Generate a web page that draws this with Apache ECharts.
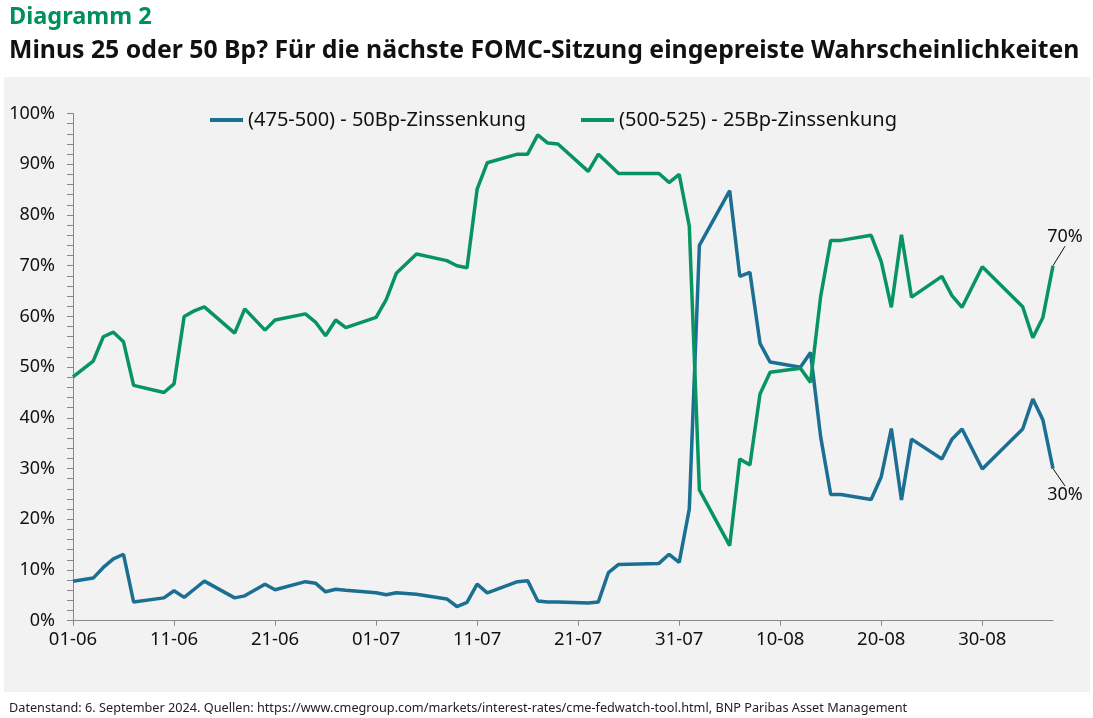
<!DOCTYPE html>
<html>
<head>
<meta charset="utf-8">
<script src="https://cdn.jsdelivr.net/npm/echarts@6/dist/echarts.min.js"></script>
<style>
  html, body { margin: 0; padding: 0; background: #fff; }
  #chart { width: 1093px; height: 718px; }
</style>
</head>
<body>
<div id="chart"></div>
<script>
// --- données (jours ouvrés, en %) --- //
const dates = [
  '2024-06-01', '2024-06-03', '2024-06-04', '2024-06-05', '2024-06-06', '2024-06-07',
  '2024-06-10', '2024-06-11', '2024-06-12', '2024-06-13', '2024-06-14',
  '2024-06-17', '2024-06-18', '2024-06-20', '2024-06-21',
  '2024-06-24', '2024-06-25', '2024-06-26', '2024-06-27', '2024-06-28',
  '2024-07-01', '2024-07-02', '2024-07-03', '2024-07-05',
  '2024-07-08', '2024-07-09', '2024-07-10', '2024-07-11', '2024-07-12',
  '2024-07-15', '2024-07-16', '2024-07-17', '2024-07-18', '2024-07-19',
  '2024-07-22', '2024-07-23', '2024-07-24', '2024-07-25',
  '2024-07-29', '2024-07-30', '2024-07-31', '2024-08-01', '2024-08-02',
  '2024-08-05', '2024-08-06', '2024-08-07', '2024-08-08', '2024-08-09',
  '2024-08-12', '2024-08-13', '2024-08-14', '2024-08-15', '2024-08-16',
  '2024-08-19', '2024-08-20', '2024-08-21', '2024-08-22', '2024-08-23',
  '2024-08-26', '2024-08-27', '2024-08-28', '2024-08-30',
  '2024-09-03', '2024-09-04', '2024-09-05', '2024-09-06'
];

const cut50 = [
  7.8, 8.4, 10.5, 12.2, 13.1, 3.7,
  4.5, 5.9, 4.6, 6.2, 7.8,
  4.5, 4.9, 7.2, 6.1,
  7.7, 7.4, 5.7, 6.2, 6.0,
  5.5, 5.1, 5.5, 5.2,
  4.3, 2.8, 3.6, 7.2, 5.5,
  7.7, 7.9, 3.9, 3.7, 3.7,
  3.5, 3.7, 9.5, 11.1,
  11.3, 13.1, 11.5, 22.0, 74.0,
  84.8, 67.9, 68.7, 54.7, 51.0,
  50.0, 52.9, 36.3, 24.9, 24.9,
  23.9, 28.4, 37.9, 23.8, 35.8,
  31.9, 35.8, 37.8, 29.9,
  37.8, 43.7, 39.6, 30.0
];

const cut25 = [
  48.1, 51.2, 56.0, 56.9, 55.0, 46.4,
  45.0, 46.7, 60.0, 61.1, 61.9,
  56.7, 61.5, 57.3, 59.3,
  60.5, 58.9, 56.2, 59.3, 57.8,
  59.8, 63.3, 68.5, 72.3,
  71.0, 70.0, 69.6, 85.1, 90.3,
  92.0, 92.0, 95.8, 94.2, 94.0,
  88.6, 92.0, 90.1, 88.2,
  88.2, 86.4, 88.0, 77.8, 25.8,
  14.8, 31.9, 30.7, 44.7, 49.0,
  49.8, 47.0, 63.9, 75.0, 75.0,
  76.0, 70.8, 61.8, 76.1, 63.8,
  67.9, 64.1, 61.8, 69.8,
  61.9, 55.8, 59.8, 70.0
];

const tickDates = [
  '2024-06-01', '2024-06-11', '2024-06-21', '2024-07-01', '2024-07-11',
  '2024-07-21', '2024-07-31', '2024-08-10', '2024-08-20', '2024-08-30'
];
const tickLabels = ['01-06', '11-06', '21-06', '01-07', '11-07', '21-07', '31-07', '10-08', '20-08', '30-08'];

const seriesNames = ['(475-500) - 50Bp-Zinssenkung', '(500-525) - 25Bp-Zinssenkung'];
const startDate = '2024-06-01';
const endDate = '2024-09-06';

// --- jours écoulés depuis le début --- //
const DAY = 86400000;
const dayOf = d => (Date.parse(d) - Date.parse(startDate)) / DAY;
const tickDays = tickDates.map(dayOf);

const BLUE = '#1b6f92';
const GREEN = '#079462';
const FONT = 'Noto Sans';

// seul le dernier point porte une étiquette (avec trait de rappel)
function buildData(values, labelPos) {
  return values.map((v, i) => {
    const item = { value: [dayOf(dates[i]), v], symbolSize: 0 };
    if (i === values.length - 1) {
      item.symbolSize = 1;
      item.label = {
        show: true,
        position: labelPos,
        formatter: p => Math.round(p.value[1]) + '%',
        color: '#111',
        opacity: 1,
        fontSize: 18,
        fontFamily: FONT
      };
    }
    return item;
  });
}

const chart = echarts.init(document.getElementById('chart'));

const option = {
  animation: false,
  graphic: {
    elements: [{
      type: 'rect',
      z: -10,
      silent: true,
      shape: { x: 4, y: 77, width: 1086, height: 615 },
      style: { fill: '#f2f2f2' }
    }]
  },
  title: [
    {
      text: 'Diagramm 2',
      left: 4, top: 0,
      textStyle: { color: '#00915a', fontSize: 23.5, fontWeight: 'bold', fontFamily: FONT }
    },
    {
      text: 'Minus 25 oder 50 Bp? Für die nächste FOMC-Sitzung eingepreiste Wahrscheinlichkeiten',
      left: 4, top: 33,
      textStyle: { color: '#111', fontSize: 24.8, fontWeight: 'bold', fontFamily: FONT }
    },
    {
      text: 'Datenstand: 6. September 2024. Quellen: https://www.cmegroup.com/markets/interest-rates/cme-fedwatch-tool.html, BNP Paribas Asset Management',
      left: 4, top: 697,
      textStyle: { color: '#222', fontSize: 12.7, fontWeight: 'normal', fontFamily: FONT }
    }
  ],
  legend: {
    left: 205, top: 105,
    itemWidth: 33, itemHeight: 4,
    itemGap: 55,
    icon: 'rect',
    textStyle: { color: '#111', fontSize: 20, fontFamily: FONT },
    data: seriesNames
  },
  grid: { left: 73, right: 40, top: 113.6, bottom: 97.3 },
  xAxis: {
    type: 'value',
    min: 0,
    max: dayOf(endDate),
    splitLine: { show: false },
    axisLine: { show: true, onZero: false, lineStyle: { color: '#888', width: 1 } },
    axisTick: { show: true, length: 5, customValues: tickDays, lineStyle: { color: '#888' } },
    axisLabel: {
      customValues: tickDays,
      margin: 10,
      color: '#111',
      fontSize: 18.5,
      fontFamily: FONT,
      formatter: v => tickLabels[tickDays.indexOf(v)]
    }
  },
  yAxis: {
    type: 'value',
    min: 0,
    max: 100,
    interval: 10,
    splitLine: { show: false },
    axisLine: { show: true, lineStyle: { color: '#888', width: 1 } },
    axisTick: { show: true, length: 6, lineStyle: { color: '#888' } },
    minorTick: { show: true, splitNumber: 5, length: 6, lineStyle: { color: '#888' } },
    axisLabel: {
      margin: 18,
      color: '#111',
      fontSize: 18,
      fontFamily: FONT,
      formatter: '{value}%'
    }
  },
  series: [
    {
      name: seriesNames[0],
      type: 'line',
      symbol: 'circle',
      showSymbol: true,
      showAllSymbol: true,
      color: BLUE,
      lineStyle: { width: 3.5, color: BLUE },
      data: buildData(cut50, 'bottom'),
      labelLayout: { dx: 12, dy: 12 },
      labelLine: { show: true, lineStyle: { color: '#111', width: 1 } }
    },
    {
      name: seriesNames[1],
      type: 'line',
      symbol: 'circle',
      showSymbol: true,
      showAllSymbol: true,
      color: GREEN,
      lineStyle: { width: 3.5, color: GREEN },
      data: buildData(cut25, 'top'),
      labelLayout: { dx: 12, dy: -14 },
      labelLine: { show: true, lineStyle: { color: '#111', width: 1 } }
    }
  ]
};

chart.setOption(option);
</script>
</body>
</html>
